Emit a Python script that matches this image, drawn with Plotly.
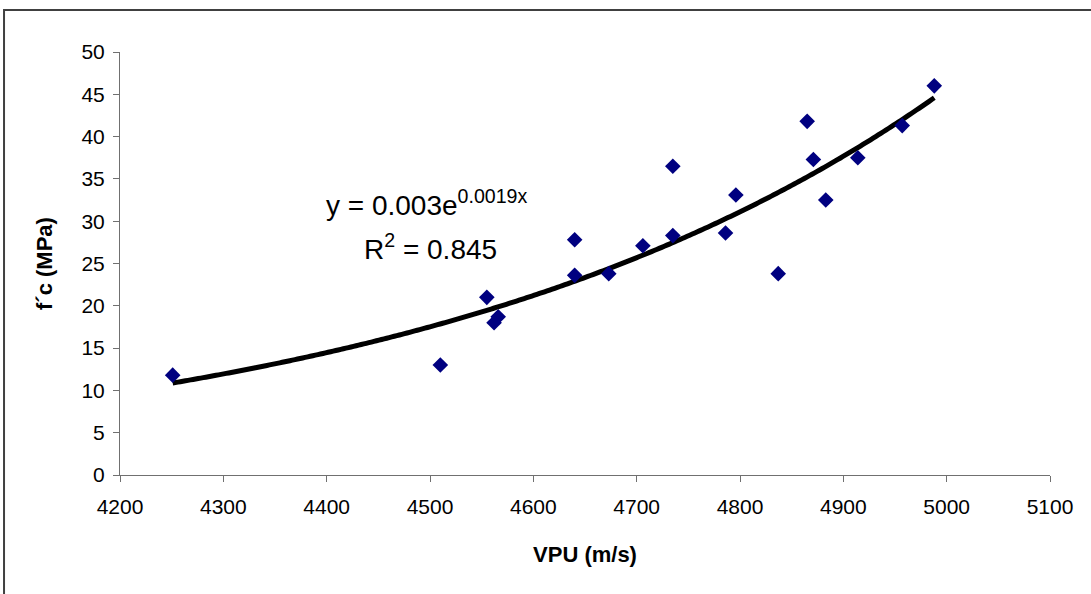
import numpy as np
import plotly.graph_objects as go

# Data
vpu = [4251, 4510, 4555, 4562, 4566, 4640, 4640, 4673, 4706, 4735,
       4735, 4786, 4796, 4837, 4865, 4871, 4883, 4914, 4957, 4988]
fc = [11.8, 13.0, 21.0, 18.0, 18.7, 27.8, 23.6, 23.8, 27.1, 36.5,
      28.3, 28.6, 33.1, 23.8, 41.8, 37.3, 32.5, 37.5, 41.3, 46.0]

x_ticks = [4200, 4300, 4400, 4500, 4600, 4700, 4800, 4900, 5000, 5100]
y_ticks = [0, 5, 10, 15, 20, 25, 30, 35, 40, 45, 50]

eq_text = "y = 0.003e<sup>0.0019x</sup>"
r2_text = "R<sup>2</sup> = 0.845"

# Exponential trendline fitted to the data (ln y = ln a + b x)
xv = np.array(vpu, dtype=float)
yv = np.array(fc, dtype=float)
b, ln_a = np.polyfit(xv, np.log(yv), 1)
x_fit = np.linspace(xv.min(), xv.max(), 300)
y_fit = np.exp(ln_a) * np.exp(b * x_fit)

FONT = "Arial, 'Liberation Sans', sans-serif"

fig = go.Figure()
fig.add_trace(go.Scatter(
    x=x_fit, y=y_fit, mode="lines",
    line=dict(color="black", width=5, simplify=False),
    hoverinfo="skip", showlegend=False,
))
fig.add_trace(go.Scatter(
    x=vpu, y=fc, mode="markers",
    marker=dict(symbol="diamond", size=12, color="#000080"),
    showlegend=False,
))

fig.add_annotation(x=4497, y=32.1, xref="x", yref="y", text=eq_text,
                   showarrow=False, font=dict(family=FONT, size=28, color="black"))
fig.add_annotation(x=4500, y=26.9, xref="x", yref="y", text=r2_text,
                   showarrow=False, font=dict(family=FONT, size=28, color="black"))

# outer chart border (left/top edges visible, right/bottom run off the picture)
fig.add_shape(type="rect", xref="paper", yref="paper",
              x0=-0.1247, x1=1.2, y0=-0.5, y1=1.0991,
              line=dict(color="#404040", width=2), fillcolor="rgba(0,0,0,0)",
              layer="below")

fig.update_layout(
    width=1091, height=594,
    margin=dict(l=120, r=41, t=52, b=119),
    paper_bgcolor="white", plot_bgcolor="white",
    font=dict(family=FONT, size=21, color="black"),
    xaxis=dict(
        range=[4200, 5100], tickvals=x_ticks, ticktext=[str(v) for v in x_ticks],
        showgrid=False, zeroline=False, showline=True, linecolor="#707070", linewidth=1,
        ticks="outside", ticklen=6, tickcolor="#707070", ticklabelstandoff=7,
        tickfont=dict(family=FONT, size=21),
        title=dict(text="<b>VPU (m/s)</b>", font=dict(family=FONT, size=22), standoff=29),
    ),
    yaxis=dict(
        range=[0, 50], tickvals=y_ticks, ticktext=[str(v) for v in y_ticks],
        showgrid=False, zeroline=False, showline=True, linecolor="#707070", linewidth=1,
        ticks="outside", ticklen=6, tickcolor="#707070", ticklabelstandoff=4,
        tickfont=dict(family=FONT, size=21),
        title=dict(text="<b>f´c (MPa)</b>", font=dict(family=FONT, size=22), standoff=22),
    ),
)

fig.write_html("out.html", config={"displayModeBar": False},
               post_script="document.body.style.margin='0';")
